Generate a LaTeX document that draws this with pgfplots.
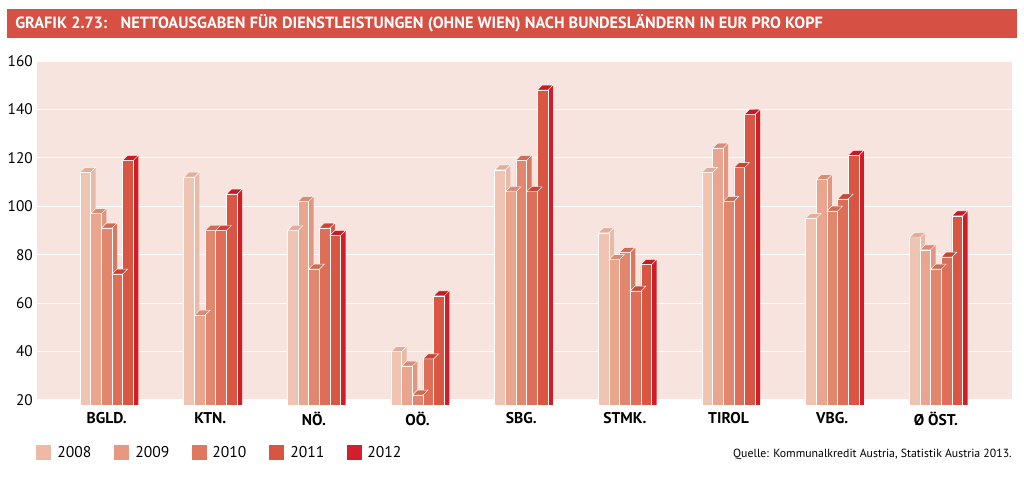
\documentclass[border=0pt]{standalone}
\usepackage{pgfplots}
\pgfplotsset{compat=1.18}
\usepackage{pgfplotstable}
\usepackage{fontspec}
\setmainfont{PT Sans}

\definecolor{plotbg}{RGB}{247,228,222}
\definecolor{titlered}{RGB}{214,80,68}
\definecolor{fA}{RGB}{240,196,178}
\definecolor{fB}{RGB}{233,165,142}
\definecolor{fC}{RGB}{226,135,110}
\definecolor{fD}{RGB}{222,110,88}
\definecolor{fE}{RGB}{217,86,66}
\definecolor{sA}{RGB}{232,186,168}
\definecolor{sB}{RGB}{224,150,128}
\definecolor{sC}{RGB}{216,120,96}
\definecolor{sD}{RGB}{208,90,70}
\definecolor{sE}{RGB}{208,30,40}
\definecolor{tA}{RGB}{226,174,156}
\definecolor{tB}{RGB}{214,140,118}
\definecolor{tC}{RGB}{206,108,86}
\definecolor{tD}{RGB}{200,70,55}
\definecolor{tE}{RGB}{198,26,36}
\definecolor{lA}{RGB}{238,186,166}
\definecolor{lB}{RGB}{230,152,128}
\definecolor{lC}{RGB}{224,120,96}
\definecolor{lD}{RGB}{217,85,66}
\definecolor{lE}{RGB}{210,30,45}

\pgfdeclareplotmark{topface}{%
  \pgfpathmoveto{\pgfpoint{-4pt}{0pt}}%
  \pgfpathlineto{\pgfpoint{4pt}{0pt}}%
  \pgfpathlineto{\pgfpoint{7.75pt}{3.75pt}}%
  \pgfpathlineto{\pgfpoint{-0.25pt}{3.75pt}}%
  \pgfpathclose
  \pgfusepathqfillstroke}

\pgfplotstableread{
x  a    b    c    d    e
0  114  97   91   72   119
1  112  55   90   90   105
2  90   102  74   91   88
3  40   34   22   37   63
4  115  106  119  106  148
5  89   78   81   65   76
6  114  124  102  116  138
7  95   111  98   103  121
8  87   82   74   79   96
}\data

% #1 column, #2 shift, #3 side shift, #4 front, #5 side, #6 top
\newcommand{\addseries}[6]{%
  \addplot[ybar, bar width=3.75pt, bar shift=#3, fill=#5, draw=none, forget plot]
    table[x=x, y expr=\thisrow{#1}+2.07] {\data};
  \addplot[ybar, bar width=8pt, bar shift=#2, fill=#4, draw=white, line width=0.5pt, forget plot]
    table[x=x, y=#1] {\data};
  \addplot[only marks, mark=topface, mark options={xshift=#2, fill=#6, draw=white, line width=0.35pt}, forget plot]
    table[x=x, y=#1] {\data};
}

\begin{document}
\begin{tikzpicture}
\begin{scope}[x=0.75pt,y=0.75pt]
  \fill[titlered] (7,472) rectangle (1017,443);
  \node[anchor=base west, text=white, inner sep=0pt, font=\bfseries\fontsize{12.2}{14}\selectfont]
    at (15,452) {GRAFIK 2.73:\hspace{10pt}NETTOAUSGABEN FÜR DIENSTLEISTUNGEN (OHNE WIEN) NACH BUNDESLÄNDERN IN EUR PRO KOPF};
  \node[anchor=base east, inner sep=0pt, font=\fontsize{8.85}{10}\selectfont] at (1012,23)
    {Quelle: Kommunalkredit Austria, Statistik Austria 2013.};
  \fill[lA] (36,36) rectangle (51,21);
  \node[anchor=base west, inner sep=0pt, font=\fontsize{11.7}{13}\selectfont] at (57,23) {2008};
  \fill[lB] (114,36) rectangle (129,21);
  \node[anchor=base west, inner sep=0pt, font=\fontsize{11.7}{13}\selectfont] at (135,23) {2009};
  \fill[lC] (192,36) rectangle (207,21);
  \node[anchor=base west, inner sep=0pt, font=\fontsize{11.7}{13}\selectfont] at (212,23) {2010};
  \fill[lD] (269,36) rectangle (284,21);
  \node[anchor=base west, inner sep=0pt, font=\fontsize{11.7}{13}\selectfont] at (290,23) {2011};
  \fill[lE] (347,36) rectangle (362,21);
  \node[anchor=base west, inner sep=0pt, font=\fontsize{11.7}{13}\selectfont] at (367,23) {2012};
\end{scope}
\begin{axis}[
  set layers,
  at={(27.75pt,57pt)}, anchor=south west,
  scale only axis, width=731.25pt, height=258pt,
  xmin=-0.6725, xmax=8.735, ymin=17.93, ymax=160,
  axis line style={draw=none},
  ymajorgrids, grid style={white, line width=0.9pt},
  ytick={20,40,...,160},
  xtick={0,...,8},
  xticklabels={BGLD., KTN., NÖ., OÖ., SBG., STMK., TIROL, VBG., Ø ÖST.},
  major tick length=0pt,
  tick style={draw=none},
  /pgf/number format/assume math mode=true,
  xticklabel style={font=\bfseries\fontsize{11.7}{13}\selectfont, anchor=north, inner sep=0pt, yshift=-5.25pt},
  yticklabel style={font=\fontsize{11.5}{13}\selectfont, anchor=east, inner sep=0pt, xshift=-3pt},
]
\addplot[fill=plotbg, draw=none, on layer=axis background, forget plot]
  coordinates {(-0.6725,20) (8.735,20) (8.735,160) (-0.6725,160)} -- cycle;
\addseries{a}{-16pt}{-10.125pt}{fA}{sA}{tA}
\addseries{b}{-8pt}{-2.125pt}{fB}{sB}{tB}
\addseries{c}{0pt}{5.875pt}{fC}{sC}{tC}
\addseries{d}{8pt}{13.875pt}{fD}{sD}{tD}
\addseries{e}{16pt}{21.875pt}{fE}{sE}{tE}
\end{axis}
\path (0,0) rectangle (768pt,360.75pt);
\end{tikzpicture}
\end{document}
